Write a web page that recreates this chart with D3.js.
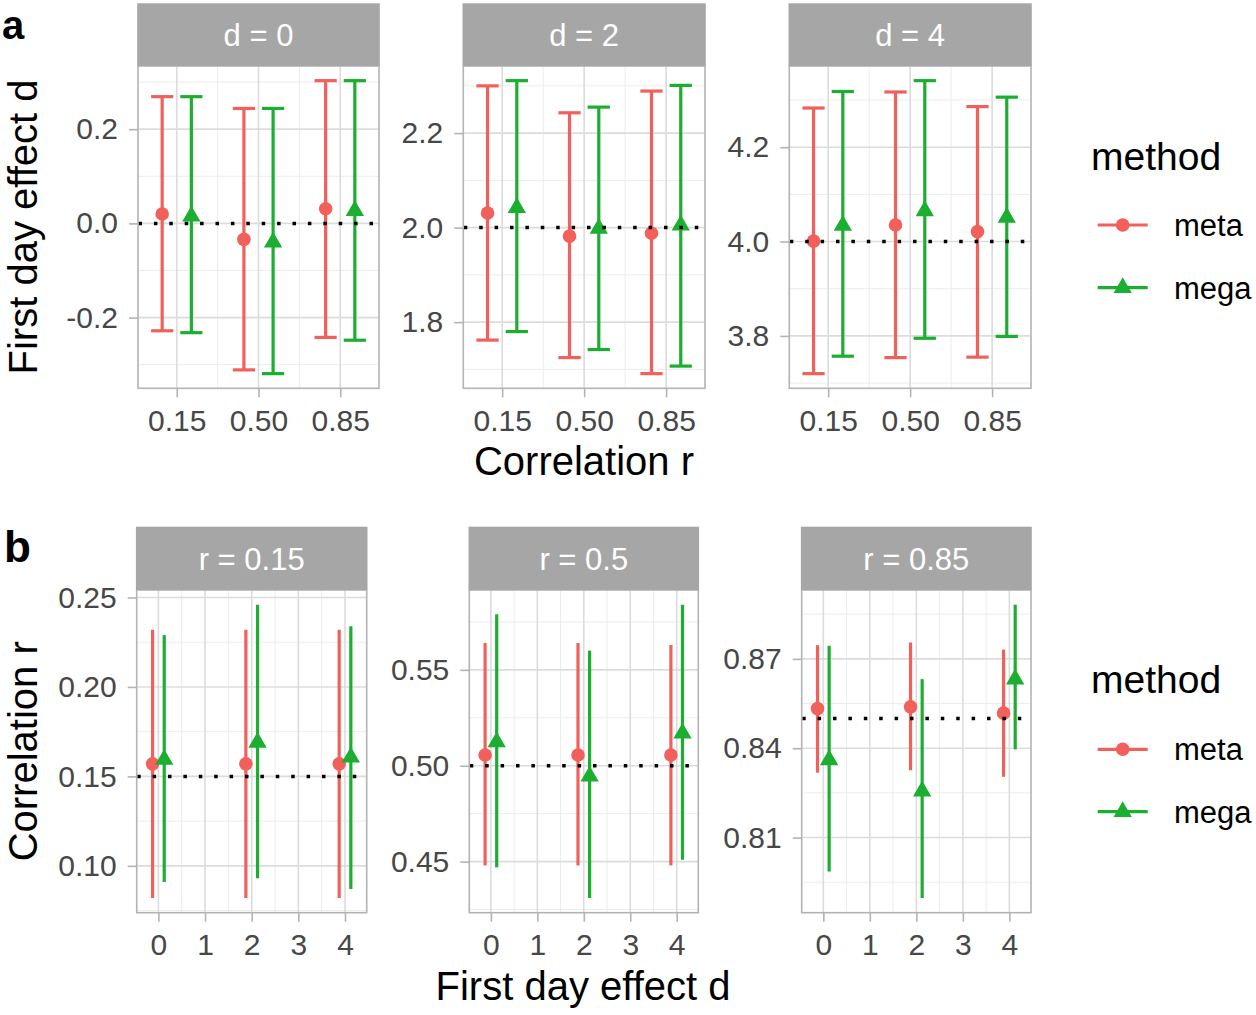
<!DOCTYPE html>
<html><head><meta charset="utf-8">
<script src="https://cdn.jsdelivr.net/npm/d3@7"></script>
<style>body{margin:0;background:#fff} svg{display:block} text{font-family:"Liberation Sans",Arial,Helvetica,sans-serif}</style>
</head><body><svg id="c" width="1256" height="1015"></svg>
<script>
// ---------- data ----------
const rLevels = [0.15, 0.50, 0.85];
const dLevels = [0, 2, 4];
const methodNames = ["meta", "mega"];

// Panel a: estimated first day effect d (facet = true d, x = correlation r)
const aStripLabels = ["d = 0", "d = 2", "d = 4"];
const aTrue = [0, 2, 4];
const aMetaEst = [[0.020, -0.034, 0.031], [2.031, 1.982, 1.988], [4.001, 4.035, 4.021]];
const aMetaLo  = [[-0.228, -0.311, -0.242], [1.762, 1.725, 1.691], [3.720, 3.754, 3.755]];
const aMetaHi  = [[0.269, 0.244, 0.303], [2.300, 2.243, 2.289], [4.283, 4.317, 4.286]];
const aMegaEst = [[0.015, -0.040, 0.027], [2.042, 1.998, 2.005], [4.034, 4.065, 4.051]];
const aMegaLo  = [[-0.232, -0.319, -0.248], [1.780, 1.742, 1.707], [3.757, 3.795, 3.799]];
const aMegaHi  = [[0.269, 0.244, 0.303], [2.311, 2.255, 2.301], [4.318, 4.341, 4.306]];
const aYTicks = [[-0.2, 0.0, 0.2], [1.8, 2.0, 2.2], [3.8, 4.0, 4.2]];
const aXTickLabels = ["0.15", "0.50", "0.85"];

// Panel b: estimated correlation r (facet = true r, x = first day effect d)
const bStripLabels = ["r = 0.15", "r = 0.5", "r = 0.85"];
const bTrue = [0.15, 0.50, 0.85];
const bMetaEst = [[0.157, 0.157, 0.157], [0.5056, 0.5056, 0.5056], [0.8533, 0.8539, 0.8518]];
const bMetaLo  = [[0.082, 0.082, 0.082], [0.448, 0.448, 0.448], [0.8318, 0.8326, 0.8304]];
const bMetaHi  = [[0.232, 0.232, 0.232], [0.564, 0.564, 0.563], [0.8746, 0.8755, 0.8731]];
const bMegaEst = [[0.1594, 0.169, 0.1607], [0.5124, 0.4945, 0.5169], [0.8361, 0.8256, 0.8632]];
const bMegaLo  = [[0.091, 0.093, 0.087], [0.447, 0.431, 0.451], [0.7986, 0.7897, 0.8396]];
const bMegaHi  = [[0.229, 0.246, 0.234], [0.579, 0.560, 0.584], [0.8744, 0.8632, 0.8882]];
const bYTicks = [[0.10, 0.15, 0.20, 0.25], [0.45, 0.50, 0.55], [0.81, 0.84, 0.87]];
const bXTicks = [0, 1, 2, 3, 4];

// ---------- style ----------
const COLORS = {meta: "#F1605B", mega: "#1CAE30"};
const STRIP_FILL = "#A6A6A6";
const BORDER = "#B3B3B3";
const GRID_MAJOR = "#DCDCDC";
const GRID_MINOR = "#ECECEC";
const TICK_TEXT = "#474747";
const LW = 3.2;

const svg = d3.select("#c");

const TRC0 = Math.sqrt(4 * Math.PI / (3 * Math.sqrt(3)));
const TRC1 = TRC0 * Math.sqrt(3) / 2;
const TRC2 = TRC0 / 2;
function triPath(cx, cy, r) {
  return `M${cx},${cy - TRC0 * r}L${cx + TRC1 * r},${cy + TRC2 * r}L${cx - TRC1 * r},${cy + TRC2 * r}Z`;
}
const PT_R = 6.8;

function minorTicks(ticks, dom) {
  const step = ticks[1] - ticks[0];
  const out = [];
  for (let i = -1; i < ticks.length; i++) {
    const v = ticks[0] + step * (i + 0.5);
    if (v > dom[0] && v < dom[1]) out.push(v);
  }
  return out;
}
function expand(vals) {
  const lo = d3.min(vals), hi = d3.max(vals);
  const pad = (hi - lo) * 0.05;
  return [lo - pad, hi + pad];
}

function drawFacet(cfg) {
  const g = svg.append("g");
  const x = d3.scaleLinear().domain(cfg.xDomain).range([cfg.x0, cfg.x1]);
  const y = d3.scaleLinear().domain(cfg.yDomain).range([cfg.bottom, cfg.stripBottom]);
  const top = cfg.stripBottom, bot = cfg.bottom;

  g.append("rect").attr("x", cfg.x0).attr("y", top).attr("width", cfg.x1 - cfg.x0)
    .attr("height", bot - top).attr("fill", "#fff");

  // grid
  const xMinor = minorTicks(cfg.xTicks, cfg.xDomain);
  const yMinor = minorTicks(cfg.yTicks, cfg.yDomain);
  g.selectAll(".xmin").data(xMinor).join("line").attr("x1", d => x(d)).attr("x2", d => x(d))
    .attr("y1", top).attr("y2", bot).attr("stroke", GRID_MINOR).attr("stroke-width", 1);
  g.selectAll(".ymin").data(yMinor).join("line").attr("y1", d => y(d)).attr("y2", d => y(d))
    .attr("x1", cfg.x0).attr("x2", cfg.x1).attr("stroke", GRID_MINOR).attr("stroke-width", 1);
  g.selectAll(".xmaj").data(cfg.xTicks).join("line").attr("x1", d => x(d)).attr("x2", d => x(d))
    .attr("y1", top).attr("y2", bot).attr("stroke", GRID_MAJOR).attr("stroke-width", 1.6);
  g.selectAll(".ymaj").data(cfg.yTicks).join("line").attr("y1", d => y(d)).attr("y2", d => y(d))
    .attr("x1", cfg.x0).attr("x2", cfg.x1).attr("stroke", GRID_MAJOR).attr("stroke-width", 1.6);

  // marks
  cfg.series.forEach(s => {
    const col = COLORS[s.method];
    const gs = g.append("g");
    s.xs.forEach((xv, i) => {
      const xc = x(xv + s.off);
      gs.append("line").attr("x1", xc).attr("x2", xc).attr("y1", y(s.lo[i])).attr("y2", y(s.hi[i]))
        .attr("stroke", col).attr("stroke-width", LW);
      if (cfg.capW > 0) {
        const xl = x(xv + s.off - cfg.capW / 2), xr = x(xv + s.off + cfg.capW / 2);
        [s.lo[i], s.hi[i]].forEach(v => gs.append("line").attr("x1", xl).attr("x2", xr)
          .attr("y1", y(v)).attr("y2", y(v)).attr("stroke", col).attr("stroke-width", LW));
      }
    });
    s.xs.forEach((xv, i) => {
      const xc = x(xv + s.off), yc = y(s.est[i]);
      if (s.method === "meta") gs.append("circle").attr("cx", xc).attr("cy", yc).attr("r", PT_R).attr("fill", col);
      else gs.append("path").attr("d", triPath(xc, yc, PT_R)).attr("fill", col);
    });
  });

  // reference line
  g.append("line").attr("x1", cfg.x0 + 0.5).attr("x2", cfg.x1).attr("y1", y(cfg.trueVal)).attr("y2", y(cfg.trueVal))
    .attr("stroke", "#000").attr("stroke-width", 3.5).attr("stroke-dasharray", "3.5,11.9");

  // border
  g.append("rect").attr("x", cfg.x0).attr("y", top).attr("width", cfg.x1 - cfg.x0)
    .attr("height", bot - top).attr("fill", "none").attr("stroke", BORDER).attr("stroke-width", 1.6);

  // strip
  g.append("rect").attr("x", cfg.x0 - 0.8).attr("y", cfg.stripTop).attr("width", cfg.x1 - cfg.x0 + 1.6)
    .attr("height", cfg.stripBottom - cfg.stripTop).attr("fill", STRIP_FILL);
  g.append("text").attr("x", (cfg.x0 + cfg.x1) / 2).attr("y", (cfg.stripTop + cfg.stripBottom) / 2)
    .attr("dy", "0.36em").attr("text-anchor", "middle").attr("fill", "#fff").attr("font-size", 31).text(cfg.strip);

  // axes
  const ax = g.append("g").attr("transform", `translate(0,${bot})`)
    .call(d3.axisBottom(x).tickValues(cfg.xTicks).tickFormat(cfg.xFmt).tickSize(9).tickPadding(12.5));
  const ay = g.append("g").attr("transform", `translate(${cfg.x0},0)`)
    .call(d3.axisLeft(y).tickValues(cfg.yTicks).tickFormat(cfg.yFmt).tickSize(9).tickPadding(11));
  [ax, ay].forEach(a => {
    a.select(".domain").remove();
    a.selectAll(".tick line").attr("stroke", BORDER).attr("stroke-width", 1.6);
    a.selectAll(".tick text").attr("fill", TICK_TEXT).attr("font-size", 30)
      .attr("font-family", '"Liberation Sans",Arial,Helvetica,sans-serif');
  });
}

// ---------- panel a ----------
const aFacetX = [[138, 379], [463.3, 705], [789.3, 1031]];
aFacetX.forEach((fx, k) => {
  drawFacet({
    x0: fx[0], x1: fx[1], stripTop: 3.3, stripBottom: 66, bottom: 388.3,
    xDomain: [-0.016, 1.016],
    yDomain: expand([...aMetaLo[k], ...aMetaHi[k], ...aMegaLo[k], ...aMegaHi[k]]),
    xTicks: rLevels, xFmt: (d, i) => aXTickLabels[i],
    yTicks: aYTicks[k], yFmt: d => d.toFixed(1),
    strip: aStripLabels[k], trueVal: aTrue[k], capW: 0.095,
    series: [
      {method: "meta", xs: rLevels, off: -0.0625, est: aMetaEst[k], lo: aMetaLo[k], hi: aMetaHi[k]},
      {method: "mega", xs: rLevels, off: 0.0625, est: aMegaEst[k], lo: aMegaLo[k], hi: aMegaHi[k]}
    ]
  });
});

// ---------- panel b ----------
const bFacetX = [[136.7, 366.7], [469.3, 698.3], [801.7, 1031]];
bFacetX.forEach((fx, k) => {
  drawFacet({
    x0: fx[0], x1: fx[1], stripTop: 526.7, stripBottom: 590, bottom: 912.7,
    xDomain: [-0.465, 4.465],
    yDomain: expand([...bMetaLo[k], ...bMetaHi[k], ...bMegaLo[k], ...bMegaHi[k]]),
    xTicks: bXTicks, xFmt: d => String(d),
    yTicks: bYTicks[k], yFmt: d => d.toFixed(2),
    strip: bStripLabels[k], trueVal: bTrue[k], capW: 0,
    series: [
      {method: "meta", xs: dLevels, off: -0.125, est: bMetaEst[k], lo: bMetaLo[k], hi: bMetaHi[k]},
      {method: "mega", xs: dLevels, off: 0.125, est: bMegaEst[k], lo: bMegaLo[k], hi: bMegaHi[k]}
    ]
  });
});

// ---------- titles ----------
function txt(x, y, s, size, opts = {}) {
  const t = svg.append("text").attr("x", x).attr("y", y).attr("font-size", size).attr("fill", opts.fill || "#000")
    .attr("text-anchor", opts.anchor || "start").text(s);
  if (opts.bold) t.attr("font-weight", "bold");
  if (opts.rotate) t.attr("transform", `rotate(-90,${x},${y})`);
  return t;
}
txt(2, 39, "a", 40, {bold: true});
txt(4, 561.7, "b", 44, {bold: true});
txt(37, 227, "First day effect d", 40, {anchor: "middle", rotate: true});
txt(37, 751.3, "Correlation r", 40, {anchor: "middle", rotate: true});
txt(584, 475, "Correlation r", 40, {anchor: "middle"});
txt(583, 1000, "First day effect d", 40, {anchor: "middle"});

// ---------- legends ----------
function legend(titleY, keyYs) {
  txt(1091, titleY, "method", 39);
  methodNames.forEach((m, i) => {
    const ky = keyYs[i], col = COLORS[m];
    svg.append("line").attr("x1", 1097.7).attr("x2", 1147.7).attr("y1", ky).attr("y2", ky)
      .attr("stroke", col).attr("stroke-width", LW);
    if (m === "meta") svg.append("circle").attr("cx", 1122.7).attr("cy", ky).attr("r", PT_R).attr("fill", col);
    else svg.append("path").attr("d", triPath(1122.7, ky, PT_R)).attr("fill", col);
    txt(1174, ky + 11, m, 31);
  });
}
legend(170, [225, 287.7]);
legend(693.3, [749.3, 811.7]);
</script></body></html>
